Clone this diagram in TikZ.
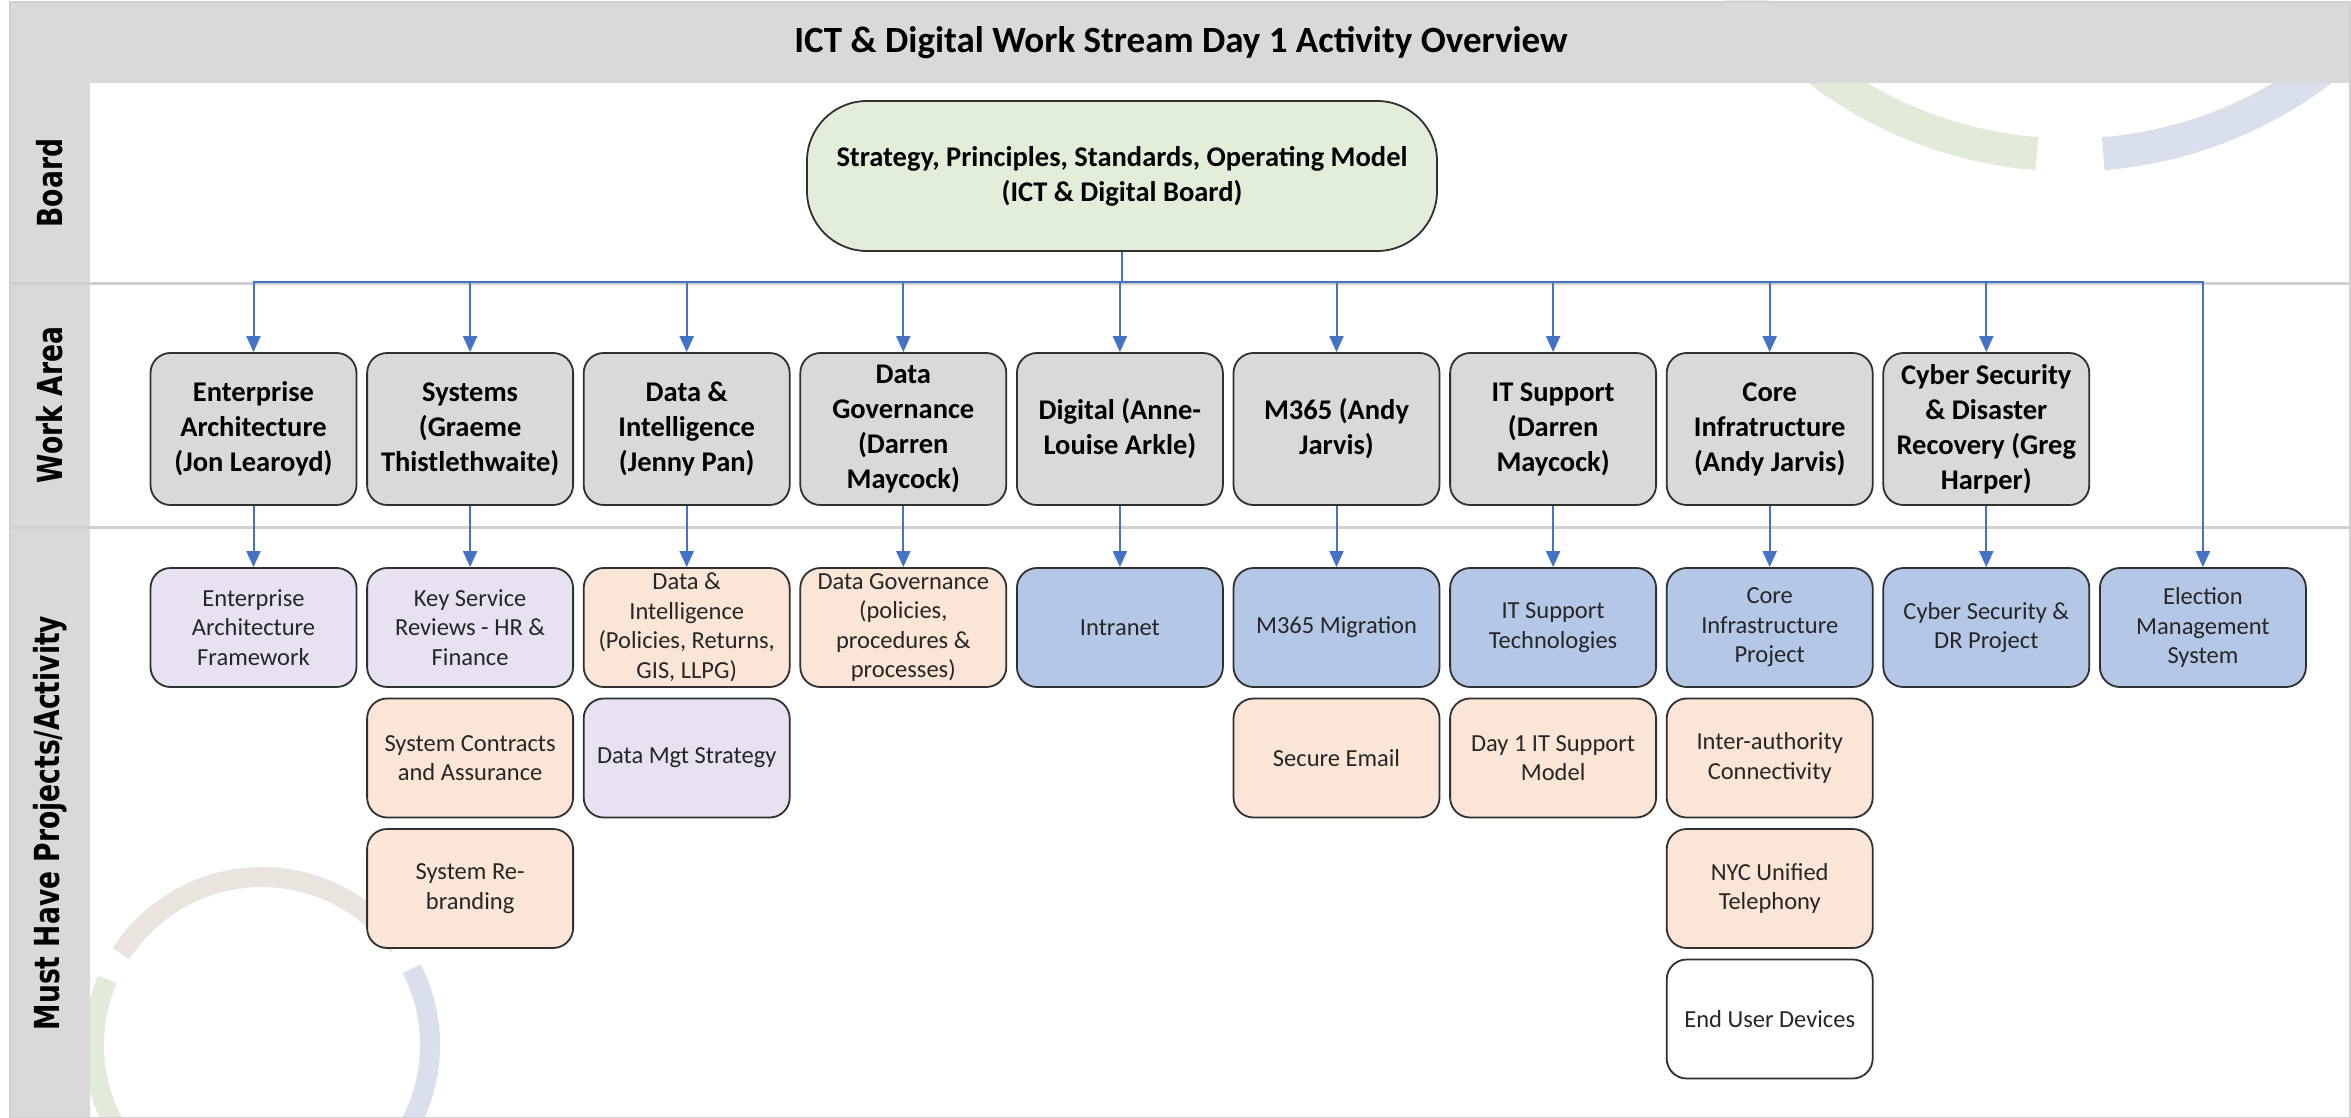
\documentclass[tikz,border=0pt]{standalone}
\usepackage{fontspec}
\setmainfont{Carlito}
\newfontfamily\lanefont{DejaVu Sans}
\usepackage{graphicx}
\usetikzlibrary{arrows.meta,calc}

\definecolor{bandgrey}{HTML}{D9D9D9}
\definecolor{divgrey}{HTML}{D0D0D0}
\definecolor{wagrey}{HTML}{D9D9D9}
\definecolor{boardgreen}{HTML}{E2EED9}
\definecolor{lav}{HTML}{E7E1F1}
\definecolor{peach}{HTML}{FBE5D6}
\definecolor{bluebox}{HTML}{B4C7E7}
\definecolor{arrowblue}{HTML}{4472C4}
\definecolor{edgecol}{HTML}{303030}
\definecolor{textgrey}{HTML}{262626}
\definecolor{arcgreen}{HTML}{E2EAD9}
\definecolor{arcblue}{HTML}{D9DFEB}
\definecolor{arcbeige}{HTML}{E9E4DE}

\begin{document}
\begin{tikzpicture}[x=1pt,y=-1pt,
  wabox/.style={draw=edgecol, line width=1.8pt, fill=wagrey, rounded corners=20pt,
    minimum width=206pt, minimum height=152pt, inner sep=0pt, align=center,
    font=\fontsize{28.5}{35}\selectfont\bfseries},
  actbox/.style={draw=edgecol, line width=1.8pt, rounded corners=20pt,
    minimum width=206pt, minimum height=119pt, inner sep=0pt, align=center,
    text=textgrey, font=\fontsize{24.5}{29.5}\selectfont},
  purp/.style={actbox, fill=lav},
  pch/.style={actbox, fill=peach},
  blu/.style={actbox, fill=bluebox},
  wht/.style={actbox, fill=white},
  link/.style={draw=arrowblue, line width=2pt, -{Triangle[length=16pt,width=14pt]}},
  busline/.style={draw=arrowblue, line width=2pt},
  lanelabel/.style={rotate=90, font=\lanefont\bfseries\fontsize{34.5}{40}\selectfont},
]
% page
\useasboundingbox (0,0) rectangle (2351,1118);
\fill[white] (0,0) rectangle (2351,1118);

% decorative arcs
\begin{scope}
  \clip (10,0) rectangle (2351,1118);
  \coordinate (trc) at (2070,-260);
  \draw[arcgreen, line width=33pt] (trc) ++(265.4:415pt) arc[start angle=265.4, end angle=170, radius=415pt];
  \draw[arcblue, line width=33pt] (trc) ++(-85.4:415pt) arc[start angle=-85.4, end angle=10, radius=415pt];
  \coordinate (blc) at (262,1045);
  \draw[arcbeige, line width=20pt] (blc) ++(36:168pt) arc[start angle=36, end angle=147, radius=168pt];
  \draw[arcgreen, line width=20pt] (blc) ++(157:168pt) arc[start angle=157, end angle=280, radius=168pt];
  \draw[arcblue, line width=20pt] (blc) ++(27:168pt) arc[start angle=27, end angle=-100, radius=168pt];
\end{scope}

% title band and lane column
\fill[bandgrey] (10,2) rectangle (2351,83);
\fill[bandgrey] (10,83) rectangle (90,1118);
\draw[divgrey, line width=1.5pt] (10,2) rectangle (2350,1118);
\draw[divgrey, line width=3pt] (10,283.5) -- (2351,283.5);
\draw[divgrey, line width=3pt] (10,527.5) -- (2351,527.5);

\node[font=\fontsize{37}{40}\selectfont\bfseries] (title) at (1181,43) {ICT \& Digital Work Stream Day 1 Activity Overview};

\node[lanelabel] (lboard) at (50,183) {\scalebox{0.77}[1]{Board}};
\node[lanelabel] (lwork) at (50,405) {\scalebox{0.77}[1]{Work Area}};
\node[lanelabel] (lmust) at (50,823) {\scalebox{0.77}[1]{Must Have Projects/Activity}};

% board
\node[draw=edgecol, line width=1.8pt, fill=boardgreen, rounded corners=60pt,
  minimum width=630pt, minimum height=150pt, inner sep=0pt, align=center,
  font=\fontsize{28.5}{35}\selectfont\bfseries] (board) at (1122,176)
  {Strategy, Principles, Standards, Operating Model\\(ICT \& Digital Board)};
\coordinate (bus) at (1122,282);

% work area
\node[wabox] (w1) at (253.5,429) {Enterprise\\Architecture\\(Jon Learoyd)};
\node[wabox] (w2) at (470.1,429) {Systems\\(Graeme\\Thistlethwaite)};
\node[wabox] (w3) at (686.7,429) {Data \&\\Intelligence\\(Jenny Pan)};
\node[wabox] (w4) at (903.3,429) {Data\\Governance\\(Darren\\Maycock)};
\node[wabox] (w5) at (1119.9,429) {Digital (Anne-\\Louise Arkle)};
\node[wabox] (w6) at (1336.5,429) {M365 (Andy\\Jarvis)};
\node[wabox] (w7) at (1553.1,429) {IT Support\\(Darren\\Maycock)};
\node[wabox] (w8) at (1769.7,429) {Core\\Infratructure\\(Andy Jarvis)};
\node[wabox] (w9) at (1986.3,429) {Cyber Security\\\& Disaster\\Recovery (Greg\\Harper)};

% activities
\node[purp] (a1) at (253.5,627.5) {Enterprise\\Architecture\\Framework};
\node[purp] (a2) at (470.1,627.5) {Key Service\\Reviews - HR \&\\Finance};
\node[pch] (a2b) at (470.1,758) {System Contracts\\and Assurance};
\node[pch] (a2c) at (470.1,888.5) {System Re-\\branding};
\node[pch] (a3) at (686.7,627.5) {Data \&\\Intelligence\\(Policies, Returns,\\GIS, LLPG)};
\node[purp] (a3b) at (686.7,758) {Data Mgt Strategy};
\node[pch] (a4) at (903.3,627.5) {Data Governance\\(policies,\\procedures \&\\processes)};
\node[blu] (a5) at (1119.9,627.5) {Intranet};
\node[blu] (a6) at (1336.5,627.5) {M365 Migration};
\node[pch] (a6b) at (1336.5,758) {Secure Email};
\node[blu] (a7) at (1553.1,627.5) {IT Support\\Technologies};
\node[pch] (a7b) at (1553.1,758) {Day 1 IT Support\\Model};
\node[blu] (a8) at (1769.7,627.5) {Core\\Infrastructure\\Project};
\node[pch] (a8b) at (1769.7,758) {Inter-authority\\Connectivity};
\node[pch] (a8c) at (1769.7,888.5) {NYC Unified\\Telephony};
\node[wht] (a8d) at (1769.7,1019) {End User Devices};
\node[blu] (a9) at (1986.3,627.5) {Cyber Security \&\\DR Project};
\node[blu] (a10) at (2202.9,627.5) {Election\\Management\\System};

% connectors
\draw[busline] (board.south) -- (bus);
\foreach \w in {w1,w2,w3,w4,w5,w6,w7,w8,w9} {
  \draw[link] (bus) -| (\w.north);
}
\draw[link] (bus) -| (a10.north);
\draw[link] (w1.south) -- (a1.north);
\draw[link] (w2.south) -- (a2.north);
\draw[link] (w3.south) -- (a3.north);
\draw[link] (w4.south) -- (a4.north);
\draw[link] (w5.south) -- (a5.north);
\draw[link] (w6.south) -- (a6.north);
\draw[link] (w7.south) -- (a7.north);
\draw[link] (w8.south) -- (a8.north);
\draw[link] (w9.south) -- (a9.north);
\end{tikzpicture}
\end{document}
